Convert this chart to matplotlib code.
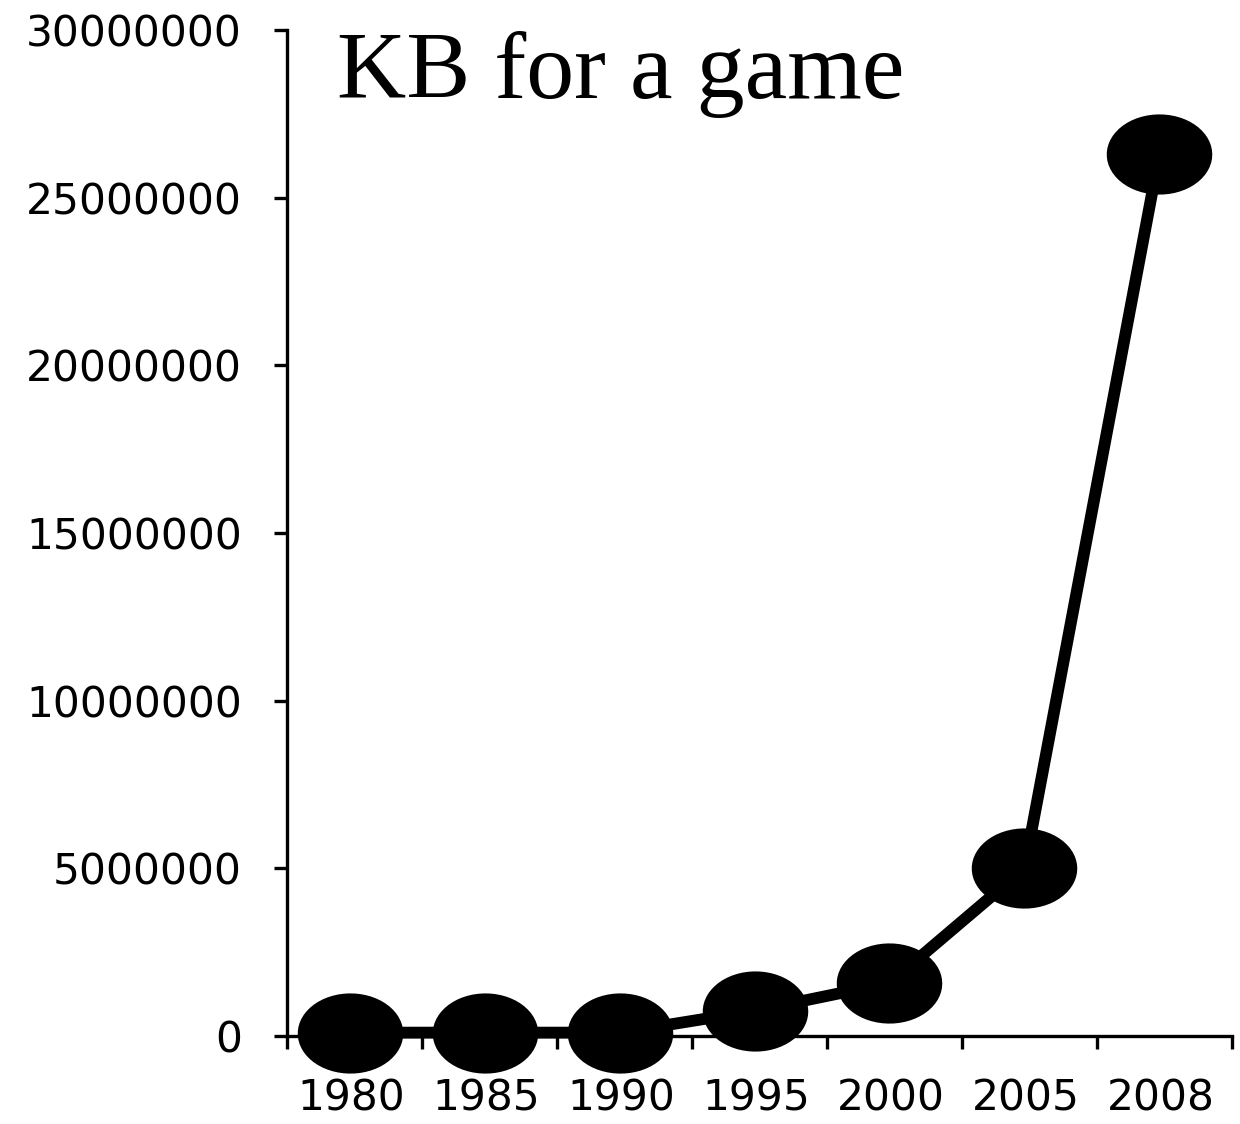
import matplotlib
matplotlib.use("Agg")
import matplotlib.pyplot as plt
import numpy as np
from matplotlib.path import Path
from matplotlib.transforms import ScaledTranslation

years = ["1980", "1985", "1990", "1995", "2000", "2005", "2008"]
kb = [100000, 100000, 100000, 750000, 1580000, 5000000, 26300000]
y_ticks = [0, 5000000, 10000000, 15000000, 20000000, 25000000, 30000000]

# ellipse marker (wider than tall)
t = np.linspace(0, 2 * np.pi, 60)
ellipse = Path(np.column_stack([np.cos(t), 0.76 * np.sin(t)]), closed=True)

fig = plt.figure(figsize=(12.4, 11.24), dpi=100)
ax = fig.add_axes([0.2315, 0.0783, 0.762, 0.8950])

x = np.arange(len(years))
# the points sit a few pixels left of the category centre in the original
shift = ax.transData + ScaledTranslation(-0.05, 0, fig.dpi_scale_trans)
ax.plot(x, kb, color="black", linewidth=8.5, marker=ellipse, markersize=76,
        markeredgewidth=0, markerfacecolor="black", clip_on=False, zorder=3,
        transform=shift)

ax.set_xlim(-0.5, len(years) - 0.5)
ax.set_ylim(0, 30000000)

ax.spines["top"].set_visible(False)
ax.spines["right"].set_visible(False)
ax.spines["left"].set_linewidth(2.4)
ax.spines["bottom"].set_linewidth(2.4)

ax.set_yticks(y_ticks)
ax.set_yticklabels([str(v) for v in y_ticks])
ax.tick_params(axis="y", length=9.5, width=2.4, pad=23, labelsize=30.5)

# ticks between categories, labels under each category
ax.set_xticks(np.arange(-0.5, len(years), 1.0))
ax.set_xticklabels([])
ax.set_xticks(x - 0.025, minor=True)
ax.set_xticklabels(years, minor=True)
ax.tick_params(axis="x", which="major", length=9.5, width=2.4, direction="out")
ax.tick_params(axis="x", which="minor", length=0, pad=30, labelsize=30.5)

ax.text(0.053, 0.932, "KB for a game", transform=ax.transAxes,
        family="Liberation Serif", fontsize=69, va="baseline", ha="left")

fig.savefig("out.png", dpi=100)
